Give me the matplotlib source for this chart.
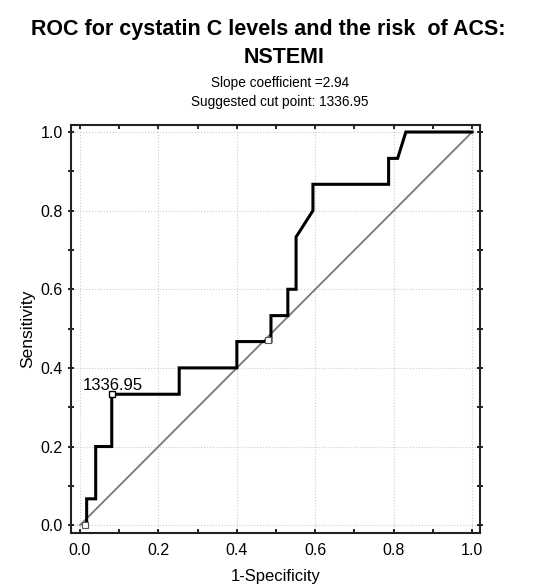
import matplotlib
matplotlib.use("Agg")
import matplotlib.pyplot as plt
from matplotlib.ticker import MultipleLocator

plt.rcParams['font.family'] = ['Liberation Sans', 'DejaVu Sans']

# ROC curve (1-Specificity, Sensitivity)
fpr = [0.013, 0.017, 0.017, 0.040, 0.040, 0.081, 0.081, 0.253, 0.253, 0.400,
       0.400, 0.487, 0.487, 0.530, 0.530, 0.551, 0.551, 0.594, 0.594, 0.787,
       0.787, 0.810, 0.831, 1.000]
tpr = [0.000, 0.000, 0.067, 0.067, 0.200, 0.200, 0.333, 0.333, 0.400, 0.400,
       0.467, 0.467, 0.533, 0.533, 0.600, 0.600, 0.733, 0.800, 0.867, 0.867,
       0.933, 0.933, 1.000, 1.000]
ref_x = [0.0, 1.0]
ref_y = [0.0, 1.0]
cut_x, cut_y = 0.081, 0.333
cut_label = "1336.95"
marker_x = [0.013, 0.480]
marker_y = [0.000, 0.470]
ticks = [0.0, 0.2, 0.4, 0.6, 0.8, 1.0]
tick_labels = ["0.0", "0.2", "0.4", "0.6", "0.8", "1.0"]

fig = plt.figure(figsize=(5.41, 5.88), dpi=100)
ax = fig.add_axes([0.1312, 0.0935, 0.7560, 0.6940])

ax.plot(ref_x, ref_y, color='#777777', lw=1.3, zorder=2)
ax.plot(fpr, tpr, color='black', lw=2.2, solid_joinstyle='miter', zorder=3)
ax.plot([cut_x], [cut_y], marker='s', ms=5, mfc='white', mec='black', mew=1.0,
        ls='none', zorder=4)
ax.plot(marker_x, marker_y, marker='s', ms=4, mfc='white', mec='#555555', mew=0.8,
        ls='none', zorder=4)
ax.text(cut_x - 0.075, cut_y + 0.004, cut_label, fontsize=12, ha='left', va='bottom',
        zorder=5)

ax.set_xlim(-0.023, 1.02)
ax.set_ylim(-0.02, 1.018)
ax.set_xticks(ticks)
ax.set_xticklabels(tick_labels)
ax.set_yticks(ticks)
ax.set_yticklabels(tick_labels)
ax.xaxis.set_minor_locator(MultipleLocator(0.1))
ax.yaxis.set_minor_locator(MultipleLocator(0.1))
ax.tick_params(axis='both', which='both', labelsize=11.5, top=True, right=True,
               direction='in', length=3, width=1.2)
ax.tick_params(axis='x', which='major', pad=7)
ax.tick_params(axis='y', which='both', left=True, direction='inout', length=5)
ax.grid(True, which='major', color='#cccccc', ls=':', lw=0.8)
for s in ax.spines.values():
    s.set_linewidth(1.5)
    s.set_color('#222222')

ax.set_xlabel("1-Specificity", fontsize=12, labelpad=8)
ax.set_ylabel("Sensitivity", fontsize=12.5, labelpad=4)

fig.text(0.496, 0.949, "ROC for cystatin C levels and the risk  of ACS:",
         ha='center', va='center', fontsize=15.5, fontweight='bold')
fig.text(0.525, 0.902, "NSTEMI", ha='center', va='center', fontsize=15.5,
         fontweight='bold')
fig.text(0.518, 0.859, "Slope coefficient =2.94", ha='center', va='center',
         fontsize=9.8)
fig.text(0.518, 0.827, "Suggested cut point: 1336.95", ha='center', va='center',
         fontsize=9.8)

fig.savefig("out.png", dpi=100)
